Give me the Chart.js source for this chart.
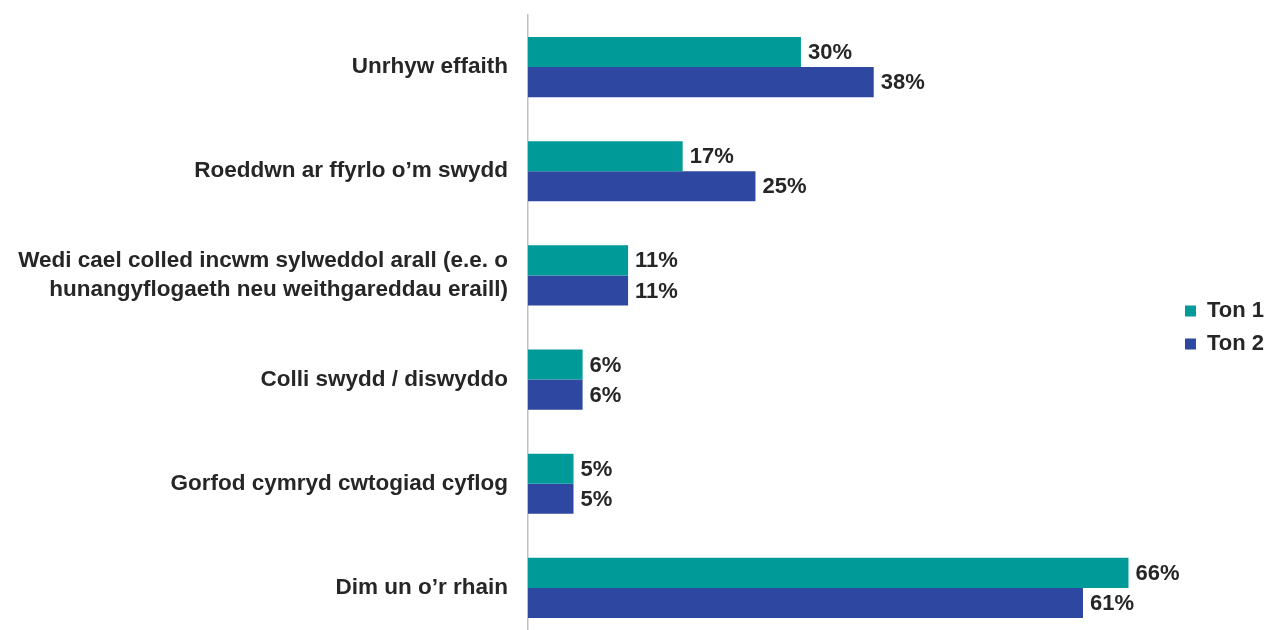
<!DOCTYPE html>
<html>
<head>
<meta charset="utf-8">
<script src="https://cdn.jsdelivr.net/npm/chart.js@4.4.1/dist/chart.umd.min.js"></script>
<style>
  html, body { margin: 0; padding: 0; background: #fff; overflow: hidden; }
  #wrap { width: 1266px; height: 640px; position: relative; }
</style>
</head>
<body>
<div id="wrap"><canvas id="chart"></canvas></div>
<script>
const categories = [
  "Unrhyw effaith",
  "Roeddwn ar ffyrlo o\u2019m swydd",
  ["Wedi cael colled incwm sylweddol arall (e.e. o", "hunangyflogaeth neu weithgareddau eraill)"],
  "Colli swydd / diswyddo",
  "Gorfod cymryd cwtogiad cyflog",
  "Dim un o\u2019r rhain",
];
const seriesNames = ["Ton 1", "Ton 2"];
const ton1 = [30, 17, 11, 6, 5, 66];
const ton2 = [38, 25, 11, 6, 5, 61];
const colors = ["#009b98", "#2e47a0"];

const textColor = "#262626";
const font = "'Liberation Sans', Arial, sans-serif";

// draws the "30%" labels at the end of each bar
const valueLabels = {
  id: "valueLabels",
  afterDatasetsDraw(chart) {
    const ctx = chart.ctx;
    ctx.save();
    ctx.font = "bold 22px " + font;
    ctx.fillStyle = textColor;
    ctx.textAlign = "left";
    ctx.textBaseline = "middle";
    chart.data.datasets.forEach((ds, i) => {
      const meta = chart.getDatasetMeta(i);
      meta.data.forEach((bar, j) => {
        ctx.fillText(ds.data[j] + "%", bar.x + 7, bar.y + 1);
      });
    });
    ctx.restore();
  },
};

new Chart(document.getElementById("chart").getContext("2d"), {
  type: "bar",
  data: {
    labels: categories,
    datasets: [
      { label: seriesNames[0], data: ton1, backgroundColor: colors[0] },
      { label: seriesNames[1], data: ton2, backgroundColor: colors[1] },
    ],
  },
  options: {
    indexAxis: "y",
    responsive: true,
    maintainAspectRatio: false,
    animation: false,
    categoryPercentage: 0.577,
    barPercentage: 1,
    layout: { padding: { top: 15, right: -8, bottom: 0, left: 0 } },
    scales: {
      x: {
        display: false,
        min: 0,
        max: 71,
      },
      y: {
        grid: { display: false, drawTicks: false },
        border: { display: true, color: "#bfbfbf", width: 1.5 },
        ticks: {
          padding: 20,
          color: textColor,
          font: { family: font, size: 22.5, weight: "bold", lineHeight: 1.29 },
        },
        afterFit(scale) {
          scale.width = 528;
          scale.paddingTop = 0;
          scale.paddingBottom = 0;
        },
      },
    },
    plugins: {
      legend: {
        position: "right",
        align: "center",
        labels: {
          boxWidth: 11,
          boxHeight: 11,
          padding: 11,
          color: textColor,
          font: { family: font, size: 22, weight: "bold" },
        },
      },
      tooltip: { enabled: false },
    },
  },
  plugins: [valueLabels],
});
</script>
</body>
</html>
